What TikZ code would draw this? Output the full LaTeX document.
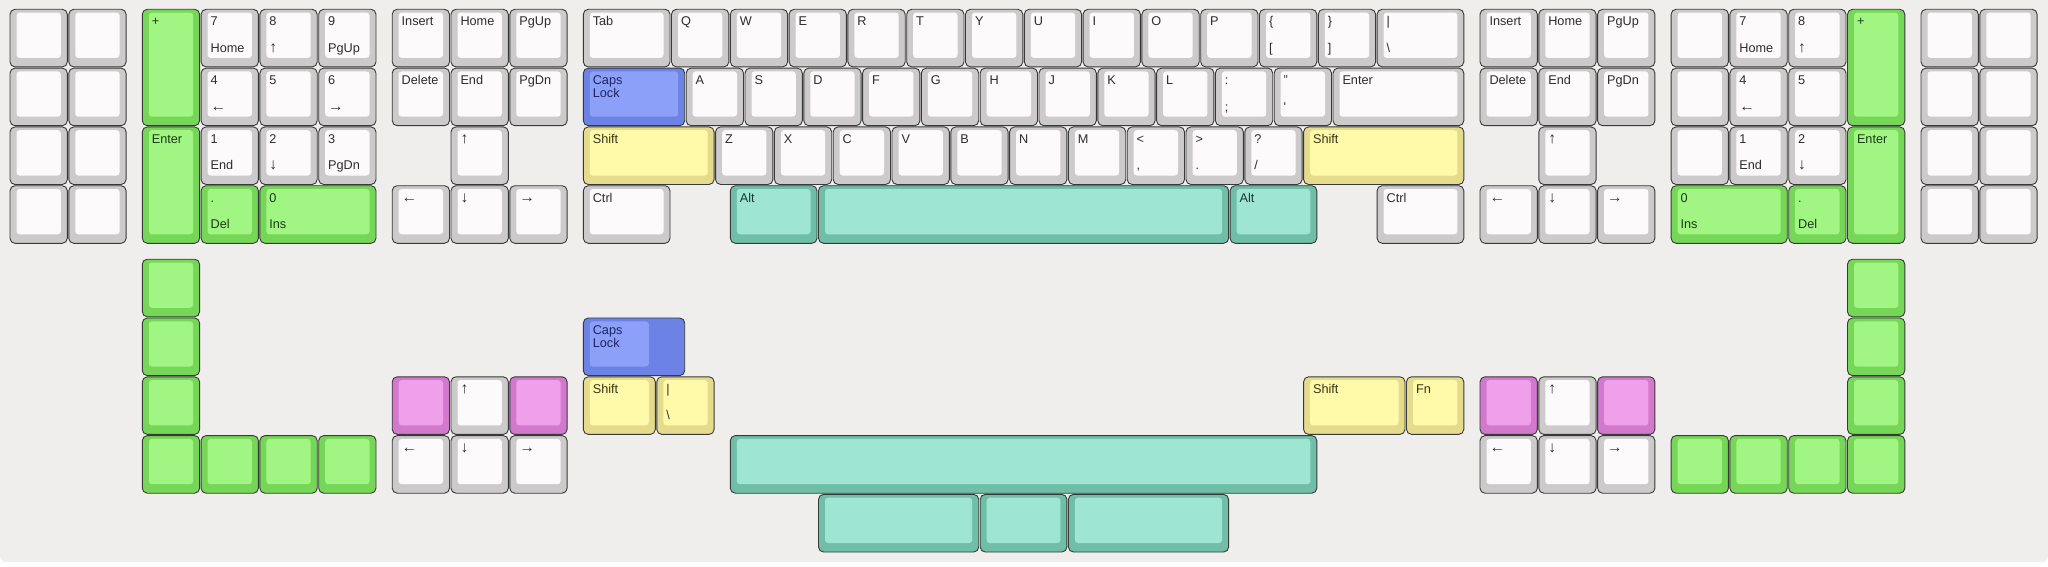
\documentclass[tikz,border=0pt]{standalone}
\usepackage{fontspec}
\setmainfont{Liberation Sans}
\definecolor{bgc}{RGB}{240,238,237}
\definecolor{keyline}{RGB}{55,58,56}
\definecolor{gkS}{RGB}{204,202,202}\definecolor{gkF}{RGB}{252,250,250}\definecolor{gkT}{RGB}{45,45,45}
\definecolor{gnS}{RGB}{118,214,88}\definecolor{gnF}{RGB}{161,245,130}\definecolor{gnT}{RGB}{28,58,20}
\definecolor{blS}{RGB}{108,130,228}\definecolor{blF}{RGB}{140,160,250}\definecolor{blT}{RGB}{28,38,95}
\definecolor{yeS}{RGB}{228,220,140}\definecolor{yeF}{RGB}{255,250,170}\definecolor{yeT}{RGB}{55,52,22}
\definecolor{teS}{RGB}{112,190,168}\definecolor{teF}{RGB}{158,230,210}\definecolor{teT}{RGB}{22,58,48}
\definecolor{pkS}{RGB}{210,120,205}\definecolor{pkF}{RGB}{240,160,235}\definecolor{pkT}{RGB}{60,25,58}
\tikzset{
  keyedge/.style={draw=keyline, line width=0.9pt, rounded corners=5pt, inner sep=0pt, outer sep=0pt, anchor=north west},
  keyface/.style={rounded corners=3pt},
  keylbl/.style={inner sep=0pt, anchor=base west, font=\fontsize{12.7}{13}\selectfont},
}
\newcommand\ar[1]{{\fontsize{15.5}{16}\selectfont #1}}
% name, x, y, w, h, colour, top label, bottom label
\newcommand\kcap[8]{%
  \pgfmathsetmacro\kxl{10+(#2)*58.8}%
  \pgfmathsetmacro\kxr{8.5+((#2)+(#4))*58.8}%
  \pgfmathsetmacro\kyt{9.3+(#3)*58.8}%
  \pgfmathsetmacro\kyb{8.1+((#3)+(#5))*58.8}%
  \pgfmathsetmacro\kw{\kxr-\kxl}%
  \pgfmathsetmacro\kh{\kyb-\kyt}%
  \pgfmathsetmacro\fxl{\kxl+6.5}%
  \pgfmathsetmacro\fxr{\kxr-6.5}%
  \pgfmathsetmacro\fyt{\kyt+3.3}%
  \pgfmathsetmacro\fyb{\kyb-9}%
  \pgfmathsetmacro\lx{\kxl+9.3}%
  \pgfmathsetmacro\lyt{\kyt+16.7}%
  \pgfmathsetmacro\lyb{\kyt+43}%
  \node[keyedge, fill=#6S, minimum width=\kw pt, minimum height=\kh pt] (#1) at (\kxl pt,-\kyt pt) {};
  \fill[keyface, fill=#6F] (\fxl pt,-\fyt pt) rectangle (\fxr pt,-\fyb pt);
  \if\relax\detokenize{#7}\relax\else
    \node[keylbl, text=#6T] (#1-t) at (\lx pt,-\lyt pt) {#7};
  \fi
  \if\relax\detokenize{#8}\relax\else
    \node[keylbl, text=#6T] (#1-b) at (\lx pt,-\lyb pt) {#8};
  \fi
}
% stepped key: name, x, y, w, face width, colour, label
\newcommand\kstep[7]{%
  \pgfmathsetmacro\kxl{10+(#2)*58.8}%
  \pgfmathsetmacro\kxr{8.5+((#2)+(#4))*58.8}%
  \pgfmathsetmacro\kyt{9.3+(#3)*58.8}%
  \pgfmathsetmacro\kyb{8.1+((#3)+1)*58.8}%
  \pgfmathsetmacro\kw{\kxr-\kxl}%
  \pgfmathsetmacro\kh{\kyb-\kyt}%
  \pgfmathsetmacro\fxl{\kxl+6.5}%
  \pgfmathsetmacro\fxr{8.5+((#2)+(#5))*58.8-6.5}%
  \pgfmathsetmacro\fyt{\kyt+3.3}%
  \pgfmathsetmacro\fyb{\kyb-9}%
  \pgfmathsetmacro\lx{\kxl+9.3}%
  \pgfmathsetmacro\lyt{\kyt+16.7}%
  \node[keyedge, fill=#6S, minimum width=\kw pt, minimum height=\kh pt] (#1) at (\kxl pt,-\kyt pt) {};
  \fill[keyface, fill=#6F] (\fxl pt,-\fyt pt) rectangle (\fxr pt,-\fyb pt);
  \node[keylbl, text=#6T] (#1-t) at (\lx pt,-\lyt pt) {#7};
}
\newcommand\capslbl{\vtop{\baselineskip=13pt\hbox{Caps}\hbox{Lock}}}
\begin{document}
\begin{tikzpicture}
\useasboundingbox (0,0) rectangle (2048pt,-567pt);
\fill[white] (0,0) rectangle (2048pt,-567pt);
\fill[bgc] (0,0) -- (2048pt,0) [rounded corners=6pt] -- (2048pt,-562pt) -- (0,-562pt) [sharp corners] -- cycle;
% ---------- row 0
\kcap{L00}{0}{0}{1}{1}{gk}{}{}
\kcap{L01}{1}{0}{1}{1}{gk}{}{}
\kcap{LnPlus}{2.25}{0}{1}{2}{gn}{+}{}
\kcap{Ln7}{3.25}{0}{1}{1}{gk}{7}{Home}
\kcap{Ln8}{4.25}{0}{1}{1}{gk}{8}{\ar{↑}}
\kcap{Ln9}{5.25}{0}{1}{1}{gk}{9}{PgUp}
\kcap{LIns}{6.5}{0}{1}{1}{gk}{Insert}{}
\kcap{LHome}{7.5}{0}{1}{1}{gk}{Home}{}
\kcap{LPgUp}{8.5}{0}{1}{1}{gk}{PgUp}{}
\kcap{Tab}{9.75}{0}{1.5}{1}{gk}{Tab}{}
\foreach \l [count=\i from 0] in {Q,W,E,R,T,Y,U,I,O,P} {\kcap{k\l}{11.25+\i}{0}{1}{1}{gk}{\l}{}}
\kcap{LBrace}{21.25}{0}{1}{1}{gk}{\{}{[}
\kcap{RBrace}{22.25}{0}{1}{1}{gk}{\}}{]}
\kcap{Pipe}{23.25}{0}{1.5}{1}{gk}{|}{\textbackslash}
\kcap{RIns}{25}{0}{1}{1}{gk}{Insert}{}
\kcap{RHome}{26}{0}{1}{1}{gk}{Home}{}
\kcap{RPgUp}{27}{0}{1}{1}{gk}{PgUp}{}
\kcap{R00}{28.25}{0}{1}{1}{gk}{}{}
\kcap{Rn7}{29.25}{0}{1}{1}{gk}{7}{Home}
\kcap{Rn8}{30.25}{0}{1}{1}{gk}{8}{\ar{↑}}
\kcap{RnPlus}{31.25}{0}{1}{2}{gn}{+}{}
\kcap{X00}{32.5}{0}{1}{1}{gk}{}{}
\kcap{X01}{33.5}{0}{1}{1}{gk}{}{}
% ---------- row 1
\kcap{L10}{0}{1}{1}{1}{gk}{}{}
\kcap{L11}{1}{1}{1}{1}{gk}{}{}
\kcap{Ln4}{3.25}{1}{1}{1}{gk}{4}{\ar{←}}
\kcap{Ln5}{4.25}{1}{1}{1}{gk}{5}{}
\kcap{Ln6}{5.25}{1}{1}{1}{gk}{6}{\ar{→}}
\kcap{LDel}{6.5}{1}{1}{1}{gk}{Delete}{}
\kcap{LEnd}{7.5}{1}{1}{1}{gk}{End}{}
\kcap{LPgDn}{8.5}{1}{1}{1}{gk}{PgDn}{}
\kcap{Caps}{9.75}{1}{1.75}{1}{bl}{\capslbl}{}
\foreach \l [count=\i from 0] in {A,S,D,F,G,H,J,K,L} {\kcap{k\l}{11.5+\i}{1}{1}{1}{gk}{\l}{}}
\kcap{Colon}{20.5}{1}{1}{1}{gk}{:}{;}
\kcap{Quote}{21.5}{1}{1}{1}{gk}{"}{\textquotesingle}
\kcap{Enter}{22.5}{1}{2.25}{1}{gk}{Enter}{}
\kcap{RDel}{25}{1}{1}{1}{gk}{Delete}{}
\kcap{REnd}{26}{1}{1}{1}{gk}{End}{}
\kcap{RPgDn}{27}{1}{1}{1}{gk}{PgDn}{}
\kcap{R10}{28.25}{1}{1}{1}{gk}{}{}
\kcap{Rn4}{29.25}{1}{1}{1}{gk}{4}{\ar{←}}
\kcap{Rn5}{30.25}{1}{1}{1}{gk}{5}{}
\kcap{X10}{32.5}{1}{1}{1}{gk}{}{}
\kcap{X11}{33.5}{1}{1}{1}{gk}{}{}
% ---------- row 2
\kcap{L20}{0}{2}{1}{1}{gk}{}{}
\kcap{L21}{1}{2}{1}{1}{gk}{}{}
\kcap{LnEnter}{2.25}{2}{1}{2}{gn}{Enter}{}
\kcap{Ln1}{3.25}{2}{1}{1}{gk}{1}{End}
\kcap{Ln2}{4.25}{2}{1}{1}{gk}{2}{\ar{↓}}
\kcap{Ln3}{5.25}{2}{1}{1}{gk}{3}{PgDn}
\kcap{LUp}{7.5}{2}{1}{1}{gk}{\ar{↑}}{}
\kcap{LShift}{9.75}{2}{2.25}{1}{ye}{Shift}{}
\foreach \l [count=\i from 0] in {Z,X,C,V,B,N,M} {\kcap{k\l}{12+\i}{2}{1}{1}{gk}{\l}{}}
\kcap{Less}{19}{2}{1}{1}{gk}{<}{,}
\kcap{Greater}{20}{2}{1}{1}{gk}{>}{.}
\kcap{Quest}{21}{2}{1}{1}{gk}{?}{/}
\kcap{RShift}{22}{2}{2.75}{1}{ye}{Shift}{}
\kcap{RUp}{26}{2}{1}{1}{gk}{\ar{↑}}{}
\kcap{R20}{28.25}{2}{1}{1}{gk}{}{}
\kcap{Rn1}{29.25}{2}{1}{1}{gk}{1}{End}
\kcap{Rn2}{30.25}{2}{1}{1}{gk}{2}{\ar{↓}}
\kcap{RnEnter}{31.25}{2}{1}{2}{gn}{Enter}{}
\kcap{X20}{32.5}{2}{1}{1}{gk}{}{}
\kcap{X21}{33.5}{2}{1}{1}{gk}{}{}
% ---------- row 3
\kcap{L30}{0}{3}{1}{1}{gk}{}{}
\kcap{L31}{1}{3}{1}{1}{gk}{}{}
\kcap{LnDot}{3.25}{3}{1}{1}{gn}{.}{Del}
\kcap{Ln0}{4.25}{3}{2}{1}{gn}{0}{Ins}
\kcap{LLeft}{6.5}{3}{1}{1}{gk}{\ar{←}}{}
\kcap{LDown}{7.5}{3}{1}{1}{gk}{\ar{↓}}{}
\kcap{LRight}{8.5}{3}{1}{1}{gk}{\ar{→}}{}
\kcap{LCtrl}{9.75}{3}{1.5}{1}{gk}{Ctrl}{}
\kcap{LAlt}{12.25}{3}{1.5}{1}{te}{Alt}{}
\kcap{Space}{13.75}{3}{7}{1}{te}{}{}
\kcap{RAlt}{20.75}{3}{1.5}{1}{te}{Alt}{}
\kcap{RCtrl}{23.25}{3}{1.5}{1}{gk}{Ctrl}{}
\kcap{RLeft}{25}{3}{1}{1}{gk}{\ar{←}}{}
\kcap{RDown}{26}{3}{1}{1}{gk}{\ar{↓}}{}
\kcap{RRight}{27}{3}{1}{1}{gk}{\ar{→}}{}
\kcap{Rn0}{28.25}{3}{2}{1}{gn}{0}{Ins}
\kcap{RnDot}{30.25}{3}{1}{1}{gn}{.}{Del}
\kcap{X30}{32.5}{3}{1}{1}{gk}{}{}
\kcap{X31}{33.5}{3}{1}{1}{gk}{}{}
% ---------- lower cluster
\foreach \r [count=\i] in {4.25,5.25,6.25,7.25} {\kcap{BLv\i}{2.25}{\r}{1}{1}{gn}{}{}}
\foreach \c [count=\i] in {3.25,4.25,5.25} {\kcap{BLh\i}{\c}{7.25}{1}{1}{gn}{}{}}
\kcap{BPk1}{6.5}{6.25}{1}{1}{pk}{}{}
\kcap{BUp}{7.5}{6.25}{1}{1}{gk}{\ar{↑}}{}
\kcap{BPk2}{8.5}{6.25}{1}{1}{pk}{}{}
\kcap{BLeft}{6.5}{7.25}{1}{1}{gk}{\ar{←}}{}
\kcap{BDown}{7.5}{7.25}{1}{1}{gk}{\ar{↓}}{}
\kcap{BRight}{8.5}{7.25}{1}{1}{gk}{\ar{→}}{}
\kstep{BCaps}{9.75}{5.25}{1.75}{1.25}{bl}{\capslbl}
\kcap{BShift}{9.75}{6.25}{1.25}{1}{ye}{Shift}{}
\kcap{BPipe}{11}{6.25}{1}{1}{ye}{|}{\textbackslash}
\kcap{BSpace}{12.25}{7.25}{10}{1}{te}{}{}
\kcap{BSp1}{13.75}{8.25}{2.75}{1}{te}{}{}
\kcap{BSp2}{16.5}{8.25}{1.5}{1}{te}{}{}
\kcap{BSp3}{18}{8.25}{2.75}{1}{te}{}{}
\kcap{BRShift}{22}{6.25}{1.75}{1}{ye}{Shift}{}
\kcap{BFn}{23.75}{6.25}{1}{1}{ye}{Fn}{}
\kcap{BPk3}{25}{6.25}{1}{1}{pk}{}{}
\kcap{BRUp}{26}{6.25}{1}{1}{gk}{\ar{↑}}{}
\kcap{BPk4}{27}{6.25}{1}{1}{pk}{}{}
\kcap{BRLeft}{25}{7.25}{1}{1}{gk}{\ar{←}}{}
\kcap{BRDown}{26}{7.25}{1}{1}{gk}{\ar{↓}}{}
\kcap{BRRight}{27}{7.25}{1}{1}{gk}{\ar{→}}{}
\foreach \c [count=\i] in {28.25,29.25,30.25,31.25} {\kcap{BRh\i}{\c}{7.25}{1}{1}{gn}{}{}}
\foreach \r [count=\i] in {4.25,5.25,6.25} {\kcap{BRv\i}{31.25}{\r}{1}{1}{gn}{}{}}
\end{tikzpicture}
\end{document}
